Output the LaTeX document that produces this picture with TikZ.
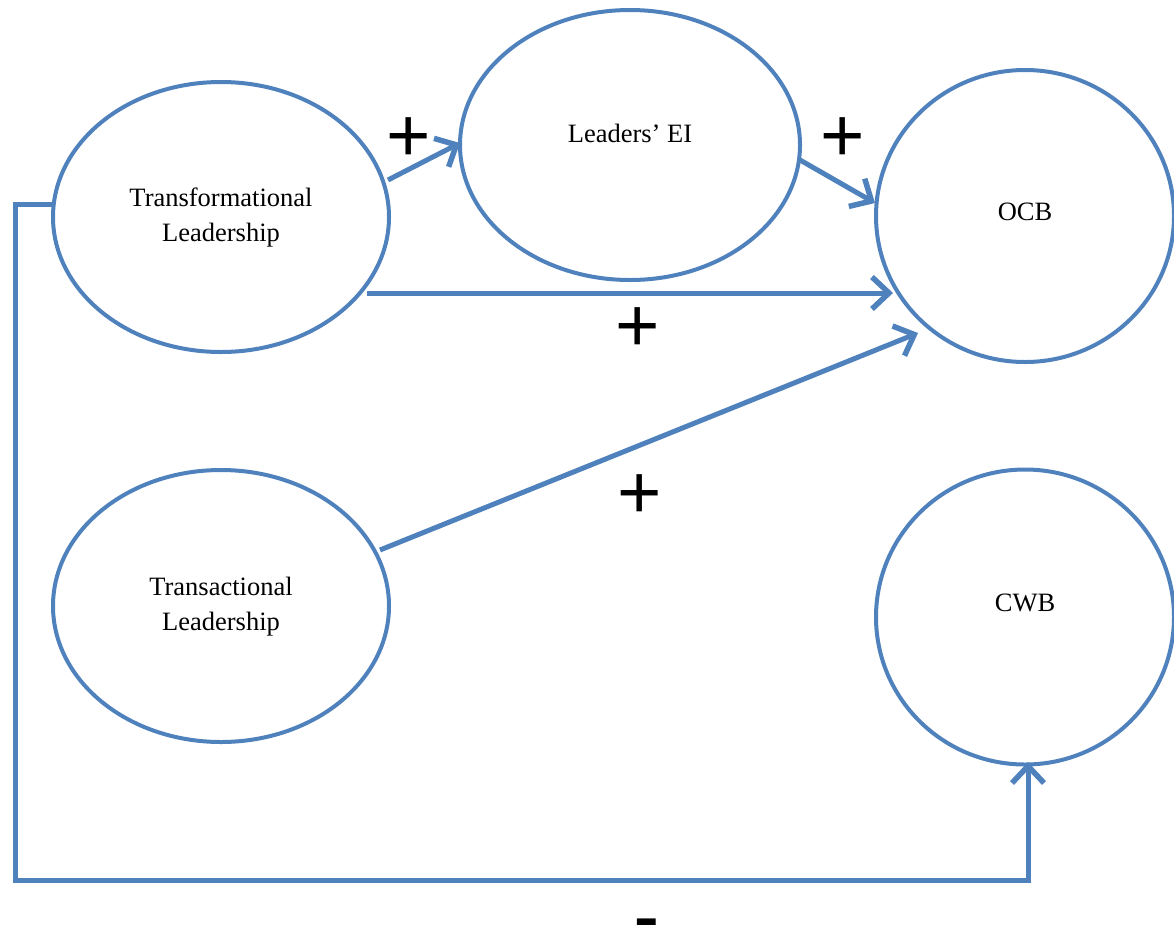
\documentclass[tikz,border=0pt]{standalone}
\usepackage{fontspec}
\setmainfont{Liberation Serif}
\newfontfamily\signfont{Liberation Sans}
\usetikzlibrary{arrows.meta,shapes.geometric}
\definecolor{lineblue}{RGB}{79,129,189}
\begin{document}
\begin{tikzpicture}[x=1pt,y=-1pt]
\useasboundingbox (0,0) rectangle (1174,924);
\tikzset{
  oval/.style={draw=lineblue,line width=4pt,ellipse,inner sep=0pt},
  conn/.style={draw=lineblue,line width=5pt,-{Straight Barb[length=17pt,width=32pt,line width=5.5pt]}},
  lbl/.style={font=\fontsize{26.5}{35}\selectfont,align=center},
  sign/.style={font=\signfont\fontsize{76}{76}\selectfont,inner sep=0pt}
}
\node[oval,minimum width=336pt,minimum height=270pt] (tf) at (221,217) {};
\node[oval,minimum width=340pt,minimum height=270pt] (ei) at (630,145) {};
\node[oval,minimum width=298pt,minimum height=292pt] (ocb) at (1025,216) {};
\node[oval,minimum width=336pt,minimum height=272pt] (ta) at (221,606) {};
\node[oval,minimum width=298pt,minimum height=295pt] (cwb) at (1025,617) {};

\node[lbl] (tft) at (221,217) {Transformational\\Leadership};
\node[lbl] (eit) at (630,133) {Leaders’ EI};
\node[lbl] (ocbt) at (1025,212) {OCB};
\node[lbl] (tat) at (221,607) {Transactional\\Leadership};
\node[lbl] (cwbt) at (1025,603) {CWB};

\coordinate (a1s) at (388,180);
\coordinate (a1e) at (460,143);
\coordinate (a2s) at (800,160);
\coordinate (a2e) at (875,203);
\coordinate (a3s) at (367,293);
\coordinate (a3e) at (893,293);
\coordinate (a4s) at (380,550);
\coordinate (a4e) at (918,333);
\coordinate (b0) at (53,204);
\coordinate (b1) at (15,204);
\coordinate (b2) at (15,880);
\coordinate (b3) at (1028,880);
\coordinate (b4) at (1028,762);

\draw[conn] (a1s) -- (a1e);
\draw[conn] (a2s) -- (a2e);
\draw[conn] (a3s) -- (a3e);
\draw[conn] (a4s) -- (a4e);
\draw[conn] (b0) -- (b1) -- (b2) -- (b3) -- (b4);

\node[sign] (p1) at (409,140) {+};
\node[sign] (p2) at (843,140) {+};
\node[sign] (p3) at (638,330) {+};
\node[sign] (p4) at (640,497) {+};
\node[font=\signfont\bfseries\fontsize{74}{74}\selectfont,inner sep=0pt,anchor=base] (m1) at (647,942) {-};
\end{tikzpicture}
\end{document}
